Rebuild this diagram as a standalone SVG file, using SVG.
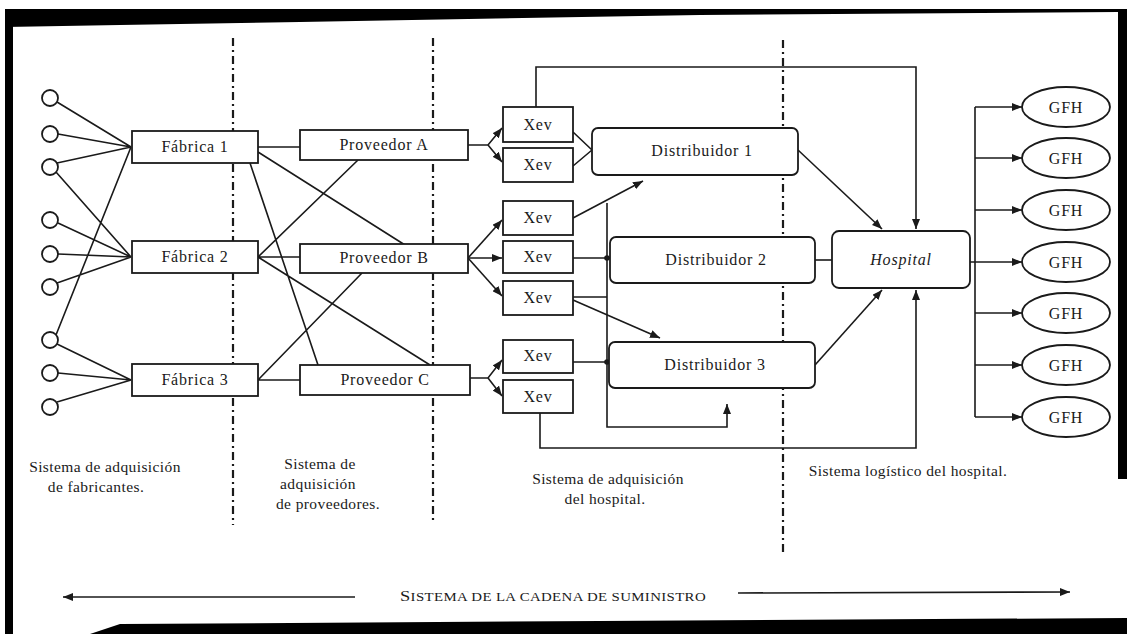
<svg xmlns="http://www.w3.org/2000/svg" width="1127" height="634" viewBox="0 0 1127 634">
<style>
.bg{fill:#fff}
.box{fill:#fff;stroke:#1a1a1a;stroke-width:1.8}
.ln{fill:none;stroke:#1a1a1a;stroke-width:1.6}
.div{fill:none;stroke:#1a1a1a;stroke-width:2.2;stroke-dasharray:8,4,2,4}
.lbl{font-family:"Liberation Serif",serif;font-size:16px;fill:#1a1a1a;text-anchor:middle;letter-spacing:0.8px}
.cap{font-family:"Liberation Serif",serif;font-size:15.5px;fill:#1a1a1a;text-anchor:middle;letter-spacing:0.4px}
.sc{font-family:"Liberation Serif",serif;font-size:12.5px;fill:#1a1a1a;letter-spacing:0.3px}
.dot{fill:#1a1a1a}
.edge{fill:#000}
</style>
<defs>
<marker id="ah" viewBox="0 0 10 8" refX="10" refY="4" markerWidth="10" markerHeight="8" markerUnits="userSpaceOnUse" orient="auto">
<path d="M0,0 L10,4 L0,8 Z" fill="#1a1a1a"/>
</marker>
</defs>
<rect class="bg" x="0" y="0" width="1127" height="634"/>
<g id="scan-edges">
<polygon class="edge" points="5,9 1118,9 1118,12 700,15 300,22 120,25 5,27"/>
<rect class="edge" x="5" y="9" width="8" height="625"/>
<rect class="edge" x="1118" y="9" width="9" height="470"/>
<polygon class="edge" points="90,634 120,624 600,621 1127,618 1127,634"/>
</g>
<g id="dividers">
<line class="div" x1="233" y1="38" x2="233" y2="525"/>
<line class="div" x1="433" y1="38" x2="433" y2="522"/>
<line class="div" x1="783" y1="40" x2="783" y2="555"/>
</g>
<g id="connectors">
<path class="ln" d="M57,102 L131,147 M58,134 L131,147 M57,163 L131,147 M56,172 L131,257 M58,223 L131,257 M58,254 L131,257 M57,283 L131,257 M56,335 L131,147 M57,344 L131,380 M58,373 L131,380 M57,402 L131,380"/>
<path class="ln" d="M258,147 L300,147 M258,152 L405,245 M250,163 L318,365 M258,257 L300,257 M258,257 L358,160 M258,257 L430,365 M258,380 L300,380 M258,380 L362,273"/>
<path class="ln" d="M468,145 L488,145 L502,128" marker-end="url(#ah)"/>
<path class="ln" d="M488,145 L502,162" marker-end="url(#ah)"/>
<path class="ln" d="M468,258 L502,220" marker-end="url(#ah)"/>
<path class="ln" d="M468,258 L502,258" marker-end="url(#ah)"/>
<path class="ln" d="M468,258 L502,296" marker-end="url(#ah)"/>
<path class="ln" d="M470,378 L488,378 L502,360" marker-end="url(#ah)"/>
<path class="ln" d="M488,378 L502,396" marker-end="url(#ah)"/>
<path class="ln" d="M573,132 L592,150 M573,166 L592,150"/>
<path class="ln" d="M573,218 L643,181" marker-end="url(#ah)"/>
<path class="ln" d="M573,258 L610,258 M573,297 L607,297 M573,362 L609,362"/>
<path class="ln" d="M607,203 L607,427 L727,427 L727,404" marker-end="url(#ah)"/>
<path class="ln" d="M573,300 L660,338" marker-end="url(#ah)"/>
<circle class="dot" cx="607" cy="258" r="2.8"/>
<circle class="dot" cx="607" cy="362" r="2.8"/>
<path class="ln" d="M536,107 L536,67 L916,67 L916,229" marker-end="url(#ah)"/>
<path class="ln" d="M540,413 L540,448 L916,448 L916,290" marker-end="url(#ah)"/>
<path class="ln" d="M798,150 L882,229" marker-end="url(#ah)"/>
<path class="ln" d="M815,260 L832,260"/>
<path class="ln" d="M815,365 L882,290" marker-end="url(#ah)"/>
<path class="ln" d="M970,262 L975,262 M975,107 L975,417"/>
<path class="ln" d="M975,107 L1022,107" marker-end="url(#ah)"/>
<path class="ln" d="M975,158 L1022,158" marker-end="url(#ah)"/>
<path class="ln" d="M975,210 L1022,210" marker-end="url(#ah)"/>
<path class="ln" d="M975,262 L1022,262" marker-end="url(#ah)"/>
<path class="ln" d="M975,313 L1022,313" marker-end="url(#ah)"/>
<path class="ln" d="M975,365 L1022,365" marker-end="url(#ah)"/>
<path class="ln" d="M975,417 L1022,417" marker-end="url(#ah)"/>
<path class="ln" d="M355,597 L63,597" marker-end="url(#ah)"/>
<path class="ln" d="M738,593 L1070,592" marker-end="url(#ah)"/>
</g>
<g id="sources">
<circle class="box" cx="50" cy="98" r="8"/>
<circle class="box" cx="50" cy="134" r="8"/>
<circle class="box" cx="50" cy="167" r="8"/>
<circle class="box" cx="50" cy="220" r="8"/>
<circle class="box" cx="50" cy="254" r="8"/>
<circle class="box" cx="50" cy="287" r="8"/>
<circle class="box" cx="50" cy="340" r="8"/>
<circle class="box" cx="50" cy="373" r="8"/>
<circle class="box" cx="50" cy="407" r="8"/>
</g>
<g id="fabrica1"><rect class="box" x="132" y="131" width="126" height="32"/><text class="lbl" x="195" y="152">Fábrica 1</text></g>
<g id="fabrica2"><rect class="box" x="132" y="241" width="126" height="32"/><text class="lbl" x="195" y="262">Fábrica 2</text></g>
<g id="fabrica3"><rect class="box" x="132" y="364" width="126" height="32"/><text class="lbl" x="195" y="385">Fábrica 3</text></g>
<g id="proveedorA"><rect class="box" x="300" y="130" width="168" height="30"/><text class="lbl" x="384" y="150">Proveedor A</text></g>
<g id="proveedorB"><rect class="box" x="300" y="244" width="168" height="29"/><text class="lbl" x="384" y="263">Proveedor B</text></g>
<g id="proveedorC"><rect class="box" x="300" y="365" width="170" height="30"/><text class="lbl" x="385" y="385">Proveedor C</text></g>
<g id="xev1"><rect class="box" x="503" y="107" width="70" height="35"/><text class="lbl" x="538" y="130">Xev</text></g>
<g id="xev2"><rect class="box" x="503" y="148" width="70" height="34"/><text class="lbl" x="538" y="170">Xev</text></g>
<g id="xev3"><rect class="box" x="503" y="201" width="70" height="34"/><text class="lbl" x="538" y="223">Xev</text></g>
<g id="xev4"><rect class="box" x="503" y="241" width="70" height="32"/><text class="lbl" x="538" y="262">Xev</text></g>
<g id="xev5"><rect class="box" x="503" y="281" width="70" height="34"/><text class="lbl" x="538" y="303">Xev</text></g>
<g id="xev6"><rect class="box" x="503" y="340" width="70" height="33"/><text class="lbl" x="538" y="361">Xev</text></g>
<g id="xev7"><rect class="box" x="503" y="380" width="70" height="33"/><text class="lbl" x="538" y="402">Xev</text></g>
<g id="distribuidor1"><rect class="box" x="592" y="128" width="206" height="47" rx="6"/><text class="lbl" x="702" y="156">Distribuidor 1</text></g>
<g id="distribuidor2"><rect class="box" x="610" y="237" width="205" height="46" rx="6"/><text class="lbl" x="716" y="265">Distribuidor 2</text></g>
<g id="distribuidor3"><rect class="box" x="609" y="342" width="206" height="46" rx="6"/><text class="lbl" x="715" y="370">Distribuidor 3</text></g>
<g id="hospital"><rect class="box" x="832" y="231" width="138" height="57" rx="7"/><text class="lbl" x="901" y="265" font-style="italic">Hospital</text></g>
<g id="gfh1"><ellipse class="box" cx="1066" cy="107" rx="44" ry="20"/><text class="lbl" x="1066" y="113">GFH</text></g>
<g id="gfh2"><ellipse class="box" cx="1066" cy="158" rx="44" ry="20"/><text class="lbl" x="1066" y="164">GFH</text></g>
<g id="gfh3"><ellipse class="box" cx="1066" cy="210" rx="44" ry="20"/><text class="lbl" x="1066" y="216">GFH</text></g>
<g id="gfh4"><ellipse class="box" cx="1066" cy="262" rx="44" ry="20"/><text class="lbl" x="1066" y="268">GFH</text></g>
<g id="gfh5"><ellipse class="box" cx="1066" cy="313" rx="44" ry="20"/><text class="lbl" x="1066" y="319">GFH</text></g>
<g id="gfh6"><ellipse class="box" cx="1066" cy="365" rx="44" ry="20"/><text class="lbl" x="1066" y="371">GFH</text></g>
<g id="gfh7"><ellipse class="box" cx="1066" cy="417" rx="44" ry="20"/><text class="lbl" x="1066" y="423">GFH</text></g>
<g id="captions">
<text class="cap" x="105" y="472">Sistema de  adquisición</text>
<text class="cap" x="96" y="492">de fabricantes.</text>
<text class="cap" x="320" y="469">Sistema de</text>
<text class="cap" x="318" y="489">adquisición</text>
<text class="cap" x="328" y="509">de proveedores.</text>
<text class="cap" x="608" y="484">Sistema de adquisición</text>
<text class="cap" x="605" y="504">del  hospital.</text>
<text class="cap" x="908" y="476" font-size="14.5px">Sistema logístico  del  hospital.</text>
<text class="sc" x="400" y="601" textLength="306" lengthAdjust="spacingAndGlyphs"><tspan font-size="15.5">S</tspan>ISTEMA DE LA CADENA DE SUMINISTRO</text>
</g>
</svg>
